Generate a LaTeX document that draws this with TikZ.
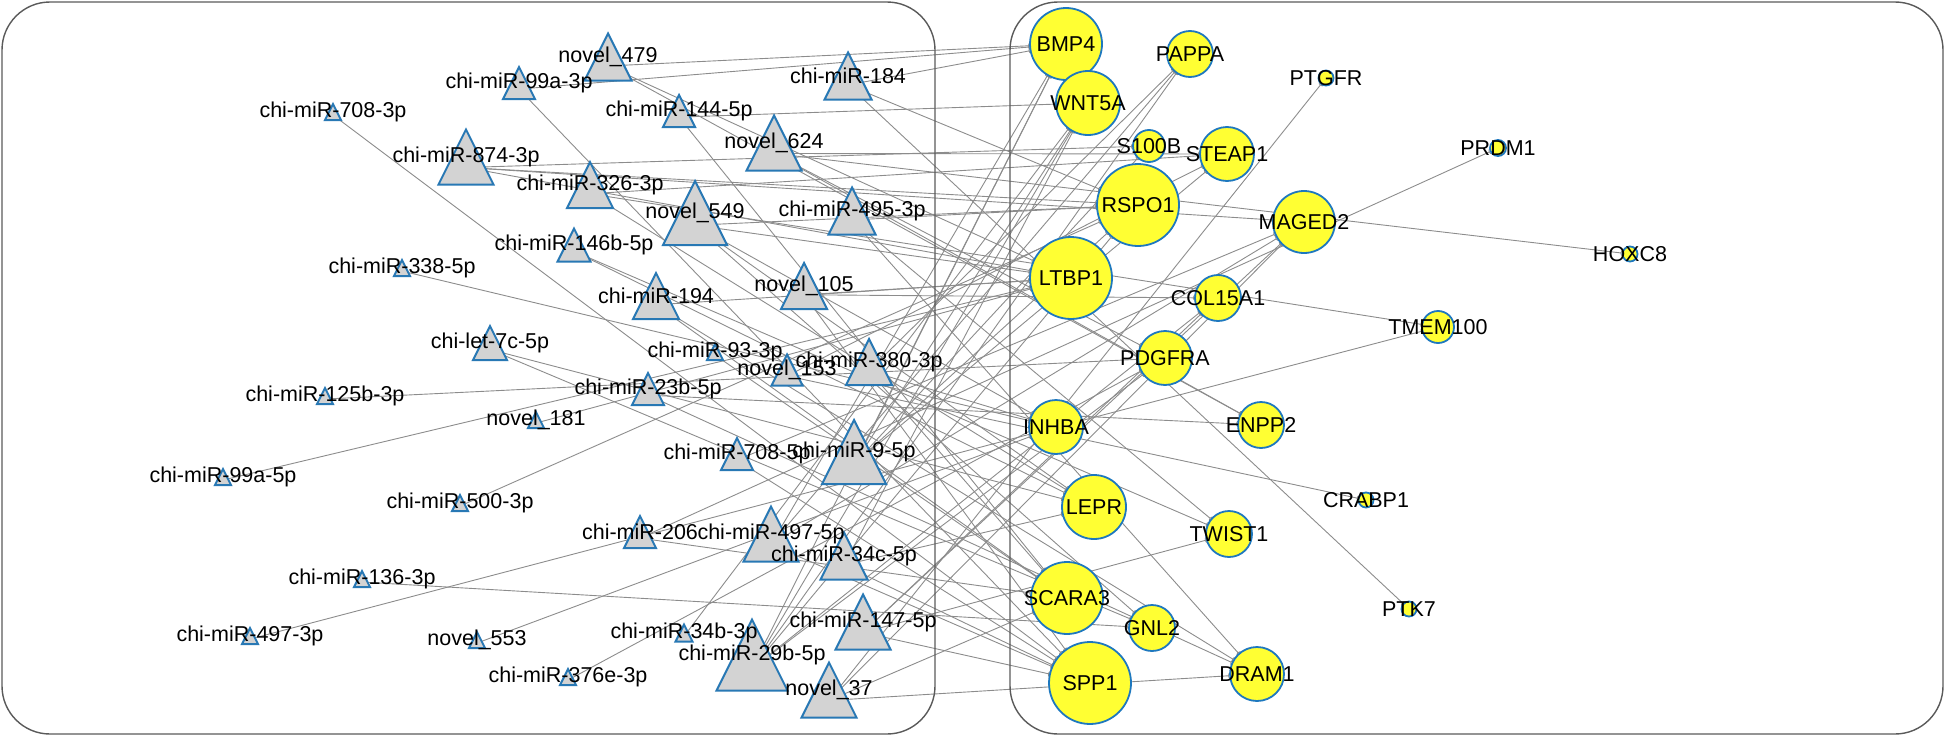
\documentclass[tikz,border=0pt]{standalone}
\usepackage{fontspec}
\setmainfont{Liberation Sans}
\usetikzlibrary{shapes.geometric,arrows.meta,backgrounds}
\pgfdeclarelayer{fg}
\pgfsetlayers{background,main,fg}
\definecolor{tribd}{RGB}{40,120,180}
\definecolor{trifl}{RGB}{211,211,211}
\definecolor{genefl}{RGB}{255,255,51}
\definecolor{genebd}{RGB}{30,120,190}
\definecolor{edgec}{RGB}{140,140,140}
\definecolor{boxc}{RGB}{90,90,90}
\tikzset{
 mirtri/.style={isosceles triangle, isosceles triangle stretches, shape border rotate=90, draw=tribd, fill=trifl, line width=2pt, inner sep=0pt, outer sep=0pt, anchor=apex},
 genec/.style={circle, draw=genebd, fill=genefl, line width=1.8pt, inner sep=0pt, outer sep=0pt},
 lbl/.style={font=\fontsize{21.5}{25}\selectfont, inner sep=0pt, text=black},
 edge/.style={draw=edgec, line width=0.9pt, -{Arc Barb[reversed,length=2pt,width=6pt]}},
 panel/.style={draw=boxc, line width=1.4pt, rounded corners=48pt},
}
\newcommand{\mir}[5]{%
 \node[mirtri, minimum width=#4pt, minimum height=#4pt] (#1) at (#2,{#3-#4/2}) {};
 \begin{pgfonlayer}{fg}\node[lbl] (#1-l) at (#2,#3) {#5};\end{pgfonlayer}}
\newcommand{\gene}[4]{%
 \node[genec, minimum size={2*#4pt}] (#1) at (#2,#3) {};
 \begin{pgfonlayer}{fg}\node[lbl] (#1-l) at (#2,#3) {#1};\end{pgfonlayer}}
\begin{document}
\begin{tikzpicture}[x=1pt,y=-1pt]
\useasboundingbox (0,0) rectangle (1946,736);
\draw[panel] (2,2) rectangle (935,734);
\draw[panel] (1010,2) rectangle (1943,734);
% genes
\gene{BMP4}{1066}{44}{36}
\gene{PAPPA}{1190}{54}{23}
\gene{PTGFR}{1326}{78}{7.5}
\gene{WNT5A}{1088}{103}{32}
\gene{S100B}{1149}{146}{16}
\gene{STEAP1}{1227}{154}{27}
\gene{RSPO1}{1138}{205}{41}
\gene{PRDM1}{1498}{148}{8}
\gene{MAGED2}{1304}{222}{31}
\gene{LTBP1}{1071}{278}{41}
\gene{COL15A1}{1218}{298}{23}
\gene{TMEM100}{1438}{327}{16}
\gene{HOXC8}{1630}{254}{7.5}
\gene{PDGFRA}{1165}{358}{27}
\gene{INHBA}{1056}{427}{27}
\gene{ENPP2}{1261}{425}{23}
\gene{LEPR}{1094}{507}{32}
\gene{CRABP1}{1366}{500}{7.5}
\gene{TWIST1}{1229}{534}{23}
\gene{SCARA3}{1067}{598}{36}
\gene{PTK7}{1409}{609}{7.5}
\gene{GNL2}{1152}{628}{23}
\gene{SPP1}{1090}{683}{41}
\gene{DRAM1}{1257}{674}{27}
% miRNAs
\mir{m7083}{333}{112}{16}{chi-miR-708-3p}
\mir{m99a3}{519}{83}{32}{chi-miR-99a-3p}
\mir{n479}{608}{57}{47}{novel\_479}
\mir{m8743}{466}{157}{55}{chi-miR-874-3p}
\mir{m1445}{679}{111}{32}{chi-miR-144-5p}
\mir{m184}{848}{76}{47}{chi-miR-184}
\mir{n624}{774}{143}{55}{novel\_624}
\mir{m3263}{590}{185}{46}{chi-miR-326-3p}
\mir{n549}{695}{213}{64}{novel\_549}
\mir{m4953}{852}{211}{47}{chi-miR-495-3p}
\mir{m146b}{574}{245}{33}{chi-miR-146b-5p}
\mir{m3385}{402}{268}{16}{chi-miR-338-5p}
\mir{m194}{656}{296}{46}{chi-miR-194}
\mir{n105}{804}{286}{46}{novel\_105}
\mir{let7c}{490}{343}{34}{chi-let-7c-5p}
\mir{m933}{715}{352}{16}{chi-miR-93-3p}
\mir{n153}{787}{370}{31}{novel\_153}
\mir{m3803}{869}{362}{46}{chi-miR-380-3p}
\mir{m125b}{325}{396}{16}{chi-miR-125b-3p}
\mir{m23b}{648}{389}{32}{chi-miR-23b-5p}
\mir{n181}{536}{420}{16}{novel\_181}
\mir{m99a5}{223}{477}{16}{chi-miR-99a-5p}
\mir{m7085}{737}{454}{32}{chi-miR-708-5p}
\mir{m95}{854}{452}{64}{chi-miR-9-5p}
\mir{m5003}{460}{503}{16}{chi-miR-500-3p}
\mir{m206}{640}{532}{32}{chi-miR-206}
\mir{m4975}{771}{534}{55}{chi-miR-497-5p}
\mir{m34c}{844}{556}{47}{chi-miR-34c-5p}
\mir{m1363}{362}{579}{16}{chi-miR-136-3p}
\mir{m1475}{863}{622}{55}{chi-miR-147-5p}
\mir{m4973}{250}{636}{16}{chi-miR-497-3p}
\mir{n553}{477}{640}{16}{novel\_553}
\mir{m34b}{684}{633}{17}{chi-miR-34b-3p}
\mir{m29b}{752}{655}{71}{chi-miR-29b-5p}
\mir{m376e}{568}{677}{16}{chi-miR-376e-3p}
\mir{n37}{829}{690}{55}{novel\_37}
% edges
\begin{scope}[on background layer]
\foreach \a/\b in {m7083/SPP1, m3385/INHBA, m125b/PDGFRA, m99a5/LTBP1, m5003/RSPO1,
 m1363/GNL2, m4973/TMEM100, n553/INHBA, m376e/PDGFRA, m34b/WNT5A, n181/LTBP1,
 m933/SCARA3, n153/CRABP1, n153/STEAP1, m99a3/SPP1, m99a3/BMP4, m1445/SCARA3,
 m1445/WNT5A, m146b/TWIST1, m146b/LEPR, m23b/ENPP2, m23b/DRAM1, m7085/SPP1,
 m7085/MAGED2, m206/PRDM1, m206/SCARA3, let7c/GNL2, let7c/LEPR, n479/BMP4,
 n479/LTBP1, n479/ENPP2, m184/PTK7, m184/BMP4, m184/RSPO1, m3263/TMEM100,
 m3263/STEAP1, m3263/LEPR, m4953/RSPO1, m4953/DRAM1, m4953/TWIST1, m194/LTBP1,
 m194/SCARA3, m194/DRAM1, n105/LTBP1, n105/COL15A1, n105/SPP1, m3803/PAPPA,
 m3803/INHBA, m3803/SCARA3, m34c/WNT5A, m34c/LEPR, m34c/SPP1, m8743/RSPO1,
 m8743/MAGED2, m8743/LTBP1, m8743/S100B, n624/HOXC8, n624/PDGFRA, n624/STEAP1,
 n624/ENPP2, m4975/PAPPA, m4975/BMP4, m4975/MAGED2, m4975/SPP1, m1475/COL15A1,
 m1475/MAGED2, m1475/TWIST1, m1475/SPP1, n37/PTGFR, n37/MAGED2, n37/DRAM1,
 n37/SCARA3, n549/RSPO1, n549/LTBP1, n549/INHBA, n549/LEPR, n549/GNL2,
 m95/WNT5A, m95/BMP4, m95/RSPO1, m95/STEAP1, m95/S100B, m29b/BMP4, m29b/WNT5A,
 m29b/PAPPA, m29b/RSPO1, m29b/COL15A1, m29b/PDGFRA}
 \draw[edge] (\a) -- (\b);
\end{scope}
\end{tikzpicture}
\end{document}
